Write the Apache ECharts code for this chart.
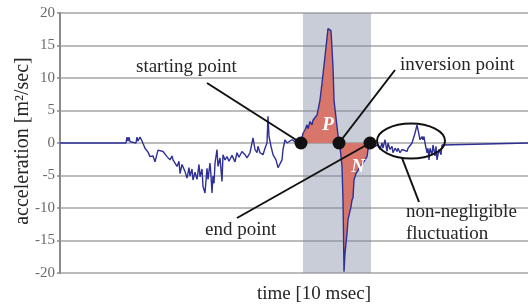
<!DOCTYPE html>
<html>
<head>
<meta charset="utf-8">
<script src="https://cdn.jsdelivr.net/npm/echarts@6/dist/echarts.min.js"></script>
<style>
  html, body { margin: 0; padding: 0; background: #fff; }
  #chart { width: 530px; height: 308px; }
</style>
</head>
<body>
<div id="chart"></div>
<script>
// time in samples (arbitrary units, 0..468), acceleration in m^2/sec
const time = [0,66,67,68,69,70,71,76,77,78,80,82,85,88,90,93,95,98,100,103,105,107,110,112,113,115,117,119,120,122,123,125,127,129,130,132,133,135,137,139,140,142,143,145,147,148,150,151,152,153,154,155,157,158,160,162,163,165,167,169,170,172,173,175,177,179,180,182,183,185,187,188,190,192,193,195,197,198,200,202,203,205,207,208,209,211,213,216,218,220,222,223,225,227,228,232,235,241,
  243,245,247,248,250,252,253,255,257,259,260,262,265,268,269,271,273,274,277,279,
  280,282,283,283.5,284,285,287,288,291,292,293,294,296,298,300,303,307,308,310,
  312,315,318,320,322,323,325,327,328,330,332,333,335,337,338,340,342,343,347,348,350,352,353,355,357,358,359,360,362,363,364,365,367,368,369,370,372,373,375,376,377,378,379,381,382,383,468];
const accel = [0,0,0.9,0.3,0.9,0.2,0,0,0.9,0.3,0.9,0.3,-0.8,-1.4,-2.1,-2.0,-2.9,-1.1,-1.0,-1.3,-1.6,-2.1,-2.6,-2.0,-2.6,-2.3,-3.6,-2.8,-4.7,-3.3,-3.6,-4.4,-5.4,-3.8,-5.1,-4.0,-5.7,-4.5,-5.6,-3.3,-5.2,-4.0,-6.7,-7.7,-3.9,-5.6,-3.1,-5.0,-7.7,-5.1,-6.2,-3.1,-1.0,-3.6,-2.3,-5.9,-1.8,-2.6,-2.1,-2.8,-2.6,-1.9,-2.1,-2.9,-1.5,-2.2,-2.3,-1.3,-1.5,-1.8,-2.3,-2.6,-1.5,-1.3,0.8,-1.0,-1.5,-0.5,-1.5,-1.3,-1.8,-0.8,0,4.1,1.0,-0.5,-1.8,-2.6,-3.8,-3.8,-2.6,-1.0,0.5,0,0.3,0.5,0.2,0,
  1.5,2.0,2.8,2.2,3.3,2.8,3.5,3.8,4.3,4.6,6.6,9.2,13.3,17.6,17.9,17.3,11.7,6.6,2.5,0,
  -0.6,-3.6,-8.8,-13.9,-19.8,-17,-13.9,-11.8,-9.8,-8.8,-8.4,-5.7,-4.7,-4.2,-3.6,-3.1,-2.1,-1.0,0,
  0.5,-0.5,-0.3,-1.0,0,-0.8,0.5,-1.3,0,-1.0,-0.5,-1.5,-0.8,-1.3,-0.8,-1.5,-1.0,-1.3,-1.3,-0.8,-1.0,0,0.3,1.5,2.8,2.6,1.3,0.5,1.0,0.5,1.0,0,-1.5,-0.8,-2.6,-0.8,-1.8,-0.3,-2.0,-0.5,-2.6,-2.8,-1.0,-1.8,-0.3,0,0];
const keyTimes = [241, 279, 310];           // starting, inversion, end point
const keyLabels = ['starting point', 'inversion point', 'end point'];
const bandRange = [243, 311];               // shaded interval
const pulseRange = [241, 310];              // filled P / N area
const yMin = -20, yMax = 20, yStep = 5;

const series = time.map((t, i) => [t, accel[i]]);
const pulse = series.filter(p => p[0] >= pulseRange[0] && p[0] <= pulseRange[1]);
const dots = keyTimes.map(t => [t, 0]);

const serif = '"Liberation Serif", "DejaVu Serif", serif';
const chart = echarts.init(document.getElementById('chart'), null, { renderer: 'canvas' });

chart.setOption({
  animation: false,
  backgroundColor: '#fff',
  grid: { left: 60, right: 2, top: 13, bottom: 35 },
  xAxis: {
    type: 'value', min: 0, max: 468,
    axisLine: { show: false }, axisTick: { show: false },
    axisLabel: { show: false }, splitLine: { show: false }
  },
  yAxis: {
    type: 'value', min: yMin, max: yMax, interval: yStep,
    axisLine: { show: true, lineStyle: { color: '#8a8a8a', width: 2 } },
    axisTick: { show: true, length: 3, lineStyle: { color: '#8a8a8a', width: 1.5 } },
    axisLabel: { fontFamily: serif, fontSize: 15, color: '#6a6a6a', margin: 5 },
    splitLine: { show: true, lineStyle: { color: '#a6a6a6', width: 1.5 } }
  },
  series: [
    {
      type: 'line', data: [], silent: true,
      markArea: {
        silent: true,
        itemStyle: { color: 'rgba(125,135,160,0.42)' },
        data: [[{ xAxis: bandRange[0] }, { xAxis: bandRange[1] }]]
      }
    },
    {
      type: 'line', data: pulse, symbol: 'none', silent: true,
      lineStyle: { width: 0 },
      areaStyle: { color: '#d8766b', opacity: 1, origin: 0 },
      z: 3
    },
    {
      type: 'line', data: series, symbol: 'none', silent: true,
      lineStyle: { color: '#2f3096', width: 1.4 },
      z: 4
    },
    {
      type: 'scatter', data: dots, symbol: 'circle', symbolSize: 13, silent: true,
      itemStyle: { color: '#111', opacity: 1 }, z: 6
    }
  ]
});

function px(t, v) { return chart.convertToPixel({ gridIndex: 0 }, [t, v]); }
const d0 = px(keyTimes[0], 0), d1 = px(keyTimes[1], 0), d2 = px(keyTimes[2], 0);
const lineStyle = { stroke: '#111', lineWidth: 2 };
function txt(text, x, y, opts) {
  return Object.assign({
    type: 'text', z: 20,
    style: {
      text: text, x: x, y: y,
      font: '19px ' + serif, fill: '#262626',
      textAlign: 'left', align: 'left',
      textVerticalAlign: 'middle', verticalAlign: 'middle'
    }
  }, opts || {});
}

chart.setOption({
  graphic: [
    { type: 'line', z: 10, shape: { x1: 207, y1: 83, x2: d0[0], y2: d0[1] }, style: lineStyle },
    { type: 'line', z: 10, shape: { x1: 395, y1: 70, x2: d1[0], y2: d1[1] }, style: lineStyle },
    { type: 'line', z: 10, shape: { x1: 237, y1: 218, x2: d2[0], y2: d2[1] }, style: lineStyle },
    { type: 'ellipse', z: 10, shape: { cx: 411, cy: 141, rx: 34, ry: 17.5 }, style: { stroke: '#111', lineWidth: 2, fill: null } },
    { type: 'line', z: 10, shape: { x1: 402, y1: 158, x2: 419, y2: 202 }, style: lineStyle },
    txt(keyLabels[0], 136, 67),
    txt(keyLabels[1], 400, 65.5),
    txt(keyLabels[2], 205, 230.5),
    txt('non-negligible', 406, 212),
    txt('fluctuation', 406, 234),
    txt('time [10 msec]', 257, 294),
    {
      type: 'text', z: 20, x: 23, y: 141, rotation: Math.PI / 2,
      style: {
        text: 'acceleration [m²/sec]', x: 0, y: 0,
        font: '20px ' + serif, fill: '#262626',
        textAlign: 'center', align: 'center',
        textVerticalAlign: 'middle', verticalAlign: 'middle'
      }
    },
    {
      type: 'text', z: 20,
      style: { text: 'P', x: 328, y: 125, font: 'italic bold 19px ' + serif, fill: '#fff',
        textAlign: 'center', align: 'center', textVerticalAlign: 'middle', verticalAlign: 'middle' }
    },
    {
      type: 'text', z: 20,
      style: { text: 'N', x: 358, y: 167, font: 'italic bold 19px ' + serif, fill: '#fff',
        textAlign: 'center', align: 'center', textVerticalAlign: 'middle', verticalAlign: 'middle' }
    }
  ]
});
</script>
</body>
</html>
